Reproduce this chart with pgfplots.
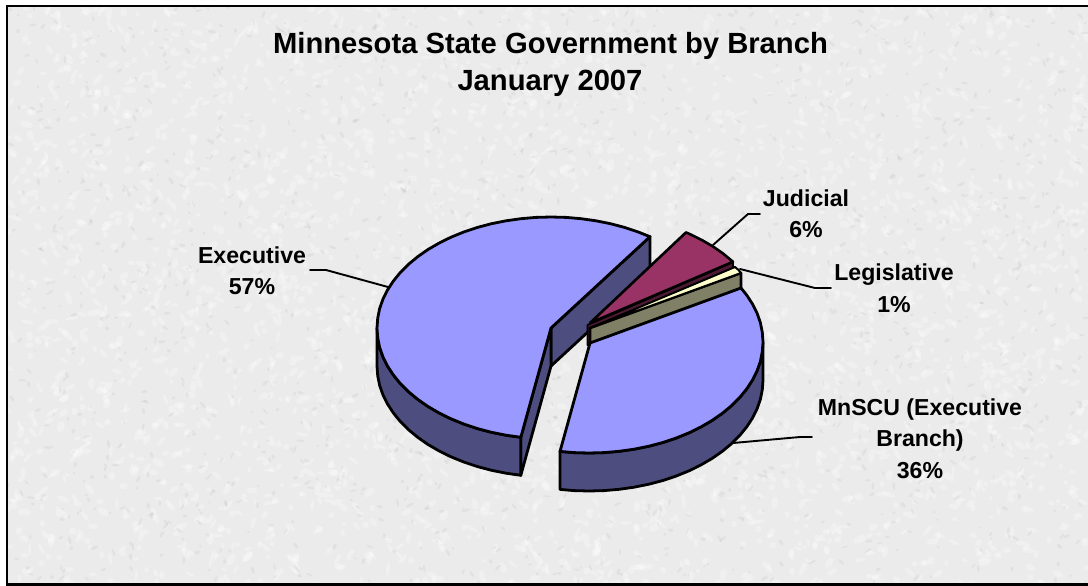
\documentclass[border=0pt]{standalone}
\usepackage{fontspec}
\setmainfont{Liberation Sans}
\usepackage{pgfplots}
\pgfplotsset{compat=1.18}
\definecolor{bg}{HTML}{EBEBEB}
\definecolor{topblue}{HTML}{9999FF}
\definecolor{sideblue}{HTML}{4D4D80}
\definecolor{jud}{HTML}{993366}
\definecolor{judside}{HTML}{4D1A33}
\definecolor{leg}{HTML}{FFFFCC}
\definecolor{legside}{HTML}{808066}
\newcommand{\lab}[3]{\node[anchor=base,inner sep=0pt,font=\fontsize{23.2}{27}\selectfont\bfseries] at (axis cs:#1,#2) {#3};}
\begin{document}
\begin{tikzpicture}
\path[use as bounding box] (0,0) rectangle (1088bp,586bp);
% granite-like background texture of the panel (decoration only, carries no data)
\begin{scope}
\clip (7bp,1.5bp) rectangle (1088bp,580bp);
\fill[bg] (7bp,1.5bp) rectangle (1088bp,580bp);
\pgfmathsetseed{7}
\foreach \i in {1,...,3200}{
  \pgfmathsetmacro{\px}{7+1081*rnd}
  \pgfmathsetmacro{\py}{1.5+578.5*rnd}
  \pgfmathsetmacro{\pa}{2+5*rnd}
  \pgfmathsetmacro{\pb}{1.5+2*rnd}
  \pgfmathsetmacro{\pt}{180*rnd}
  \fill[white,fill opacity=0.28,rotate around={\pt:(\px bp,\py bp)}] (\px bp,\py bp) ellipse (\pa bp and \pb bp);
}
\foreach \i in {1,...,1500}{
  \pgfmathsetmacro{\px}{7+1081*rnd}
  \pgfmathsetmacro{\py}{1.5+578.5*rnd}
  \pgfmathsetmacro{\pa}{1.2+3*rnd}
  \pgfmathsetmacro{\pb}{0.8+1*rnd}
  \pgfmathsetmacro{\pt}{180*rnd}
  \fill[gray,fill opacity=0.09,rotate around={\pt:(\px bp,\py bp)}] (\px bp,\py bp) ellipse (\pa bp and \pb bp);
}
\end{scope}
\begin{axis}[
  at={(0,0)}, anchor=south west,
  scale only axis, width=1088bp, height=586bp,
  xmin=0, xmax=1088, ymin=0, ymax=586, y dir=reverse,
  hide axis, clip=true,
  every axis plot/.append style={line join=round, line cap=round, no markers, solid},
]
% panel frame
\addplot[draw=black, line width=2.4bp, line join=miter] coordinates {(1090,6) (7,6) (7,584.5) (1090,584.5)};

% Executive: cut faces
\addplot[fill=sideblue, draw=black, line width=2.8bp] coordinates {(551,328) (650,236.7) (650,274.7) (551,366)} -- cycle;
\addplot[fill=sideblue, draw=black, line width=2.8bp] coordinates {(551,328) (551,366) (520.8,475.3) (520.8,437.3)} -- cycle;
% Executive: rim
\addplot[fill=sideblue, draw=black, line width=2.8bp] coordinates {
(377,328) (377.7,337.7) (379.6,347.3) (382.9,356.7) (387.5,366) (393.3,374.9) (400.3,383.5) (408.5,391.7) (417.7,399.3) (428,406.5) (439.2,413) (451.2,418.9) (464,424.1) (477.5,428.6) (491.5,432.3) (506,435.2) (520.8,437.3)
(520.8,475.3) (506,473.2) (491.5,470.3) (477.5,466.6) (464,462.1) (451.2,456.9) (439.2,451) (428,444.5) (417.7,437.3) (408.5,429.7) (400.3,421.5) (393.3,412.9) (387.5,404) (382.9,394.7) (379.6,385.3) (377.7,375.7) (377,366)} -- cycle;
% Executive: top
\addplot[fill=topblue, draw=black, line width=2.8bp] coordinates {
(551,328) (650,236.7) (638,231.9) (624.5,227.4) (610.5,223.7) (596,220.8) (581.2,218.7) (566.2,217.4) (551,217) (535.8,217.4) (520.8,218.7) (506,220.8) (491.5,223.7) (477.5,227.4) (464,231.9) (451.2,237.1) (439.2,243) (428,249.5) (417.7,256.7) (408.5,264.3) (400.3,272.5) (393.3,281.1) (387.5,290) (382.9,299.3) (379.6,308.7) (377.7,318.3) (377,328) (377.7,337.7) (379.6,347.3) (382.9,356.7) (387.5,366) (393.3,374.9) (400.3,383.5) (408.5,391.7) (417.7,399.3) (428,406.5) (439.2,413) (451.2,418.9) (464,424.1) (477.5,428.6) (491.5,432.3) (506,435.2) (520.8,437.3)} -- cycle;

% Judicial
\addplot[fill=judside, draw=black, line width=1.8bp] coordinates {(587.5,325) (733,262) (733,282) (587.5,345)} -- cycle;
\addplot[fill=jud, draw=black, line width=2.6bp] coordinates {(590,323) (686,232.4) (689.8,234.1) (701.8,240) (713,246.5) (723.3,253.7) (733,261.8)} -- cycle;
% Legislative
\addplot[fill=legside, draw=black, line width=2.6bp] coordinates {(590,328) (741,273) (741,290) (590,345)} -- cycle;
\addplot[fill=leg, draw=black, line width=2bp] coordinates {(590,328) (735,267) (738.5,270) (741,273)} -- cycle;

% MnSCU: rim
\addplot[fill=sideblue, draw=black, line width=2.8bp] coordinates {
(763,342) (762.3,351.7) (760.4,361.3) (757.1,370.7) (752.5,380) (746.7,388.9) (739.7,397.5) (731.5,405.7) (722.3,413.3) (712,420.5) (700.8,427) (688.8,432.9) (676,438.1) (662.5,442.6) (648.5,446.3) (634,449.2) (619.2,451.3) (604.2,452.6) (589,453) (573.8,452.6) (560,451.4)
(560,489.4) (573.8,490.6) (589,491) (604.2,490.6) (619.2,489.3) (634,487.2) (648.5,484.3) (662.5,480.6) (676,476.1) (688.8,470.9) (700.8,465) (712,458.5) (722.3,451.3) (731.5,443.7) (739.7,435.5) (746.7,426.9) (752.5,418) (757.1,408.7) (760.4,399.3) (762.3,389.7) (763,380)} -- cycle;
% MnSCU: top
\addplot[fill=topblue, draw=black, line width=2.8bp] coordinates {
(590,343) (741,288) (746.7,295.1) (752.5,304) (757.1,313.3) (760.4,322.7) (762.3,332.3) (763,342) (762.3,351.7) (760.4,361.3) (757.1,370.7) (752.5,380) (746.7,388.9) (739.7,397.5) (731.5,405.7) (722.3,413.3) (712,420.5) (700.8,427) (688.8,432.9) (676,438.1) (662.5,442.6) (648.5,446.3) (634,449.2) (619.2,451.3) (604.2,452.6) (589,453) (573.8,452.6) (560,451.4)} -- cycle;

% Leader lines
\addplot[black, line width=1.9bp] coordinates {(310,270) (326,270) (388,287)};
\addplot[black, line width=1.9bp] coordinates {(760,214) (748,214) (713,245)};
\addplot[black, line width=1.9bp] coordinates {(740,269) (815,288) (831,288)};
\addplot[black, line width=1.9bp] coordinates {(733,443) (800,437) (812,437)};

% Texts
\node[anchor=base,inner sep=0pt,font=\fontsize{29.3}{34}\selectfont\bfseries] at (axis cs:550.5,53.5) {Minnesota State Government by Branch};
\node[anchor=base,inner sep=0pt,font=\fontsize{29.3}{34}\selectfont\bfseries] at (axis cs:550,91) {January 2007};
\lab{252}{263}{Executive}
\lab{252}{294}{57\%}
\lab{806}{206}{Judicial}
\lab{806}{237}{6\%}
\lab{894}{280}{Legislative}
\lab{894}{312}{1\%}
\lab{920}{415}{MnSCU (Executive}
\lab{920}{446}{Branch)}
\lab{920}{478}{36\%}
\end{axis}
\end{tikzpicture}
\end{document}
